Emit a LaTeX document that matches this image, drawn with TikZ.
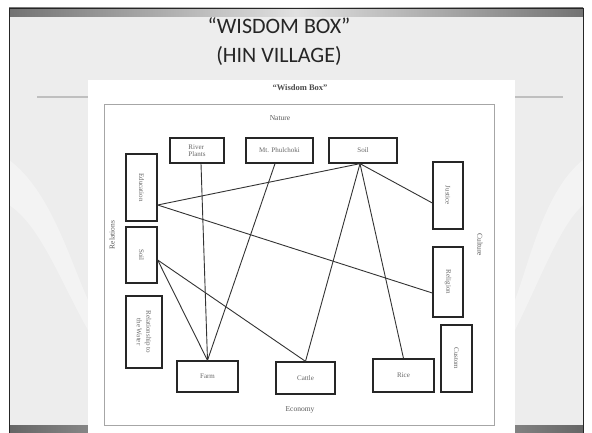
\documentclass[tikz,border=0pt]{standalone}
\usepackage{fontspec}
\setmainfont{Liberation Serif}
\newfontfamily\slidefont{Carlito}
\begin{document}
\begin{tikzpicture}[x=1pt,y=-1pt,
  box/.style={draw=black!85, line width=1.3pt, rectangle, inner sep=0pt,
    font=\fontsize{7}{7.5}\selectfont, text=black!60, align=center},
  link/.style={draw=black!80, line width=0.9pt},
  side/.style={font=\fontsize{7.5}{8}\selectfont, text=black!65},
]
\useasboundingbox (0,0) rectangle (592,433);
% slide background
\fill[white] (0,0) rectangle (592,433);
\fill[black!7] (9,8) rectangle (583,433);
\fill[white, opacity=0.35] (9,160) .. controls (50,190) and (70,260) .. (88,300) -- (88,330) .. controls (60,280) and (40,225) .. (9,205) -- cycle;
\fill[white, opacity=0.35] (583,160) .. controls (545,190) and (530,260) .. (515,300) -- (515,330) .. controls (540,280) and (560,225) .. (583,205) -- cycle;
\shade[left color=black!55, right color=black!55, middle color=black!12] (9,8) rectangle (583,17);
\shade[left color=black!60, right color=black!60, middle color=black!15] (9,425) rectangle (583,433);
\draw[black!85, line width=0.9pt] (9,433) -- (9,8) -- (583,8) -- (583,433);
\draw[black!25, line width=1.5pt] (37,97) -- (563,97);
% slide title
\node[font=\slidefont\fontsize{22}{29}\selectfont, text=black!85, align=center] (title) at (279,42) {“WISDOM BOX”\\(HIN VILLAGE)};
% embedded page
\fill[white] (88,80) rectangle (515,433);
\node[font=\bfseries\fontsize{8.5}{9}\selectfont, text=black!70] (head) at (300,88) {“Wisdom Box”};
\draw[black!35, line width=0.8pt] (104,104) rectangle (494,425);
\node[side] (nature) at (280,118) {Nature};
\node[side] (economy) at (300,410) {Economy};
\node[side, rotate=90] (society) at (112,235) {Relations};
\node[side, rotate=-90] (culture) at (480,245) {Culture};
% boxes
\node[box, minimum width=54pt, minimum height=25pt, align=left] (riv) at (197,150.5) {River\\Plants};
\node[box, minimum width=67pt, minimum height=25pt] (mtp) at (279.5,150.5) {Mt. Phulchoki};
\node[box, minimum width=68pt, minimum height=25pt] (soilt) at (363,150.5) {Soil};
\node[box, minimum width=31pt, minimum height=67pt] (edu) at (141.5,187.5) {\rotatebox{-90}{Education}};
\node[box, minimum width=31pt, minimum height=56pt] (soill) at (141.5,255) {\rotatebox{-90}{Soil}};
\node[box, minimum width=36pt, minimum height=72pt] (rel) at (144,332) {\rotatebox{-90}{\shortstack{Relationship to\\the Water}}};
\node[box, minimum width=61pt, minimum height=31pt] (farm) at (207.5,376.5) {Farm};
\node[box, minimum width=59pt, minimum height=32pt] (cattle) at (305.5,378) {Cattle};
\node[box, minimum width=61pt, minimum height=33pt] (rice) at (403.5,375.5) {Rice};
\node[box, minimum width=30pt, minimum height=67pt] (justice) at (448,195.5) {\rotatebox{-90}{Justice}};
\node[box, minimum width=30pt, minimum height=70pt] (religion) at (448,282) {\rotatebox{-90}{Religion}};
\node[box, minimum width=31pt, minimum height=67pt] (custom) at (456.5,358.5) {\rotatebox{-90}{Custom}};
% links
\draw[link] ([xshift=4pt]riv.south) -- (farm.north);
\draw[link] ([xshift=-4.5pt]mtp.south) -- (farm.north);
\draw[link] ([xshift=-3pt]soilt.south) -- ([yshift=-17.5pt]edu.east);
\draw[link] ([xshift=-3pt]soilt.south) -- ([yshift=-7.5pt]justice.west);
\draw[link] ([xshift=-3pt]soilt.south) -- (cattle.north);
\draw[link] ([xshift=-3pt]soilt.south) -- (rice.north);
\draw[link] ([yshift=-17.5pt]edu.east) -- ([yshift=-11pt]religion.west);
\draw[link] ([yshift=-5pt]soill.east) -- (farm.north);
\draw[link] ([yshift=-5pt]soill.east) -- (cattle.north);
\end{tikzpicture}
\end{document}
